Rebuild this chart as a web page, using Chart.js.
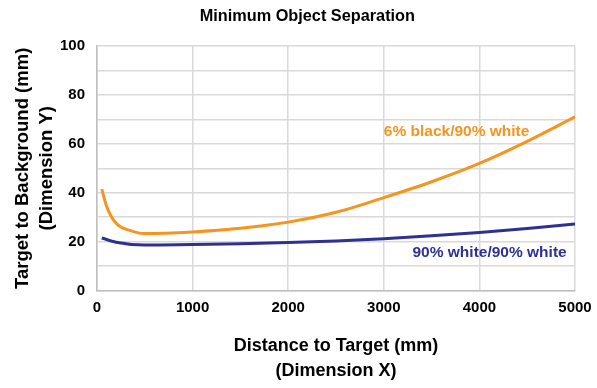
<!DOCTYPE html>
<html><head><meta charset="utf-8">
<script src="https://cdn.jsdelivr.net/npm/chart.js@4/dist/chart.umd.min.js"></script>
<style>html,body{margin:0;padding:0;background:#fff}#wrap{width:597px;height:388px;position:relative}</style>
</head><body><div id="wrap"><canvas id="c"></canvas></div>
<script>
const title = "Minimum Object Separation";
const xTitle = ["Distance to Target (mm)", "(Dimension X)"];
const yTitle = ["Target to Background (mm)", "(Dimension Y)"];
const seriesNames = ["6% black/90% white", "90% white/90% white"];
const blackX = [50, 100, 200, 350, 500, 1000, 1500, 2000, 2500, 3000, 3500, 4000, 4500, 5000];
const blackY = [41.5, 34.5, 27.5, 24.5, 23.3, 24, 25.5, 28, 32, 38, 44.5, 52, 61, 71];
const whiteX = [50, 200, 500, 1000, 1500, 2000, 2500, 3000, 3500, 4000, 4500, 5000];
const whiteY = [21.5, 19.8, 18.6, 18.8, 19.2, 19.7, 20.3, 21.2, 22.4, 23.8, 25.4, 27.2];
const xTicks = [0, 1000, 2000, 3000, 4000, 5000];
const yLabelled = [0, 20, 40, 60, 80, 100];

const FONT = "'Liberation Sans',Arial,sans-serif";
const ORANGE = "#F7941D";
const NAVY = "#2E3192";

const labelPlugin = {
  id: 'seriesLabels',
  afterDatasetsDraw(chart) {
    const {ctx, scales: {x, y}} = chart;
    ctx.save();
    ctx.font = "bold 15.5px " + FONT;
    ctx.textBaseline = 'middle';
    ctx.textAlign = 'left';
    ctx.fillStyle = ORANGE;
    ctx.fillText(seriesNames[0], x.getPixelForValue(3000), y.getPixelForValue(65));
    ctx.fillStyle = NAVY;
    ctx.fillText(seriesNames[1], x.getPixelForValue(3300), y.getPixelForValue(15.6));
    // chart title, centred slightly right of the canvas middle as in the original
    ctx.fillStyle = '#000';
    ctx.font = "bold 16.3px " + FONT;
    ctx.textAlign = 'center';
    ctx.fillText(title, x.getPixelForValue(2200), 17);
    ctx.restore();
  }
};

new Chart(document.getElementById('c'), {
  type: 'line',
  data: {
    datasets: [
      { label: seriesNames[0], data: blackX.map((v, i) => ({x: v, y: blackY[i]})),
        borderColor: ORANGE, borderWidth: 3, pointRadius: 0, cubicInterpolationMode: 'monotone', fill: false },
      { label: seriesNames[1], data: whiteX.map((v, i) => ({x: v, y: whiteY[i]})),
        borderColor: NAVY, borderWidth: 3, pointRadius: 0, cubicInterpolationMode: 'monotone', fill: false }
    ]
  },
  options: {
    responsive: true, maintainAspectRatio: false, animation: false,
    layout: { padding: { left: 8, right: 22, top: 46, bottom: 4 } },
    plugins: {
      legend: { display: false }, tooltip: { enabled: false }, title: { display: false }
    },
    scales: {
      x: {
        type: 'linear', min: 0, max: 5000,
        afterBuildTicks: (s) => { s.ticks = xTicks.map(v => ({value: v})); },
        afterFit: (s) => { s.paddingRight = 0; s.paddingLeft = 0; },
        grid: { color: '#d9d9d9', lineWidth: 1.5, drawTicks: false },
        border: { color: '#bfbfbf', width: 1.5 },
        ticks: { color: '#000', font: { family: FONT, size: 15, weight: 'bold' }, padding: 8, maxRotation: 0,
          callback: (v) => String(v) },
        title: { display: true, text: xTitle, color: '#000', font: { family: FONT, size: 18, weight: 'bold', lineHeight: 1.4 }, padding: { top: 9, bottom: 0 } }
      },
      y: {
        min: 0, max: 100,
        afterFit: (s) => { s.width = 89; },
        ticks: { stepSize: 10, color: '#000', font: { family: FONT, size: 15, weight: 'bold' }, padding: 12,
          callback: (v) => yLabelled.includes(v) ? String(v) : '' },
        grid: { color: '#d9d9d9', lineWidth: 1.5, drawTicks: false },
        border: { color: '#bfbfbf', width: 1.5 },
        title: { display: true, text: yTitle, color: '#000', font: { family: FONT, size: 18.5, weight: 'bold', lineHeight: 1.3 }, padding: { top: 3, bottom: 0 } }
      }
    }
  },
  plugins: [labelPlugin]
});
</script></body></html>
